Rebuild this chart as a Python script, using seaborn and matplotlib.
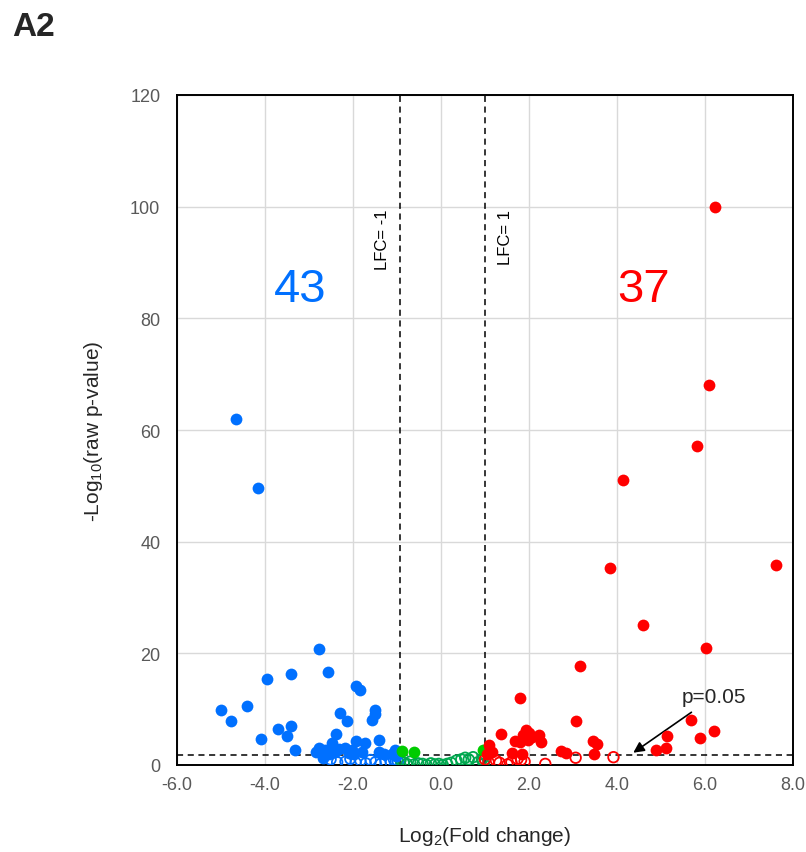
import numpy as np
import pandas as pd
import matplotlib
matplotlib.use("Agg")
import matplotlib.pyplot as plt
import seaborn as sns

# ---------------- data ----------------
blue_x = [-4.66, -4.15, -2.77, -3.95, -3.41, -2.56, -1.94, -1.83, -5.01, -4.77, -4.40,
          -3.70, -3.41, -3.49, -4.08, -3.32, -2.29, -2.14, -1.49, -1.49, -1.56, -2.38,
          -2.47, -1.94, -1.73, -1.42, -2.77, -2.63, -2.68, -2.32, -2.19, -2.02, -1.98,
          -1.42, -1.05, -1.03, -2.55, -2.40, -2.10, -1.80, -1.30, -2.85, -1.12]
blue_y = [61.9, 49.6, 20.8, 15.4, 16.3, 16.6, 14.1, 13.5, 9.8, 7.9, 10.6,
          6.4, 6.9, 5.2, 4.7, 2.6, 9.3, 7.9, 9.9, 9.2, 8.1, 5.5,
          3.9, 4.3, 3.9, 4.5, 3.0, 2.7, 1.3, 2.8, 3.1, 2.7, 1.9,
          2.3, 2.6, 1.6, 2.0, 2.3, 2.2, 2.4, 1.9, 2.4, 2.0]

red_x = [6.22, 6.08, 5.82, 4.14, 3.84, 7.62, 4.58, 6.02, 3.17, 1.80, 3.06, 5.69,
         6.20, 5.89, 5.14, 4.89, 5.11, 3.45, 3.55, 3.47, 2.73, 2.83, 1.36, 1.94,
         1.86, 1.69, 2.07, 2.23, 2.28, 1.80, 1.10, 1.62, 1.16, 1.84, 2.00, 1.98, 1.05]
red_y = [100.0, 68.0, 57.2, 51.0, 35.3, 35.9, 25.0, 20.9, 17.8, 12.0, 7.8, 8.0,
         6.1, 4.8, 5.2, 2.7, 3.0, 4.3, 3.7, 1.9, 2.5, 2.1, 5.6, 6.2,
         5.4, 4.3, 5.0, 5.4, 4.2, 4.2, 3.5, 2.2, 2.3, 1.9, 5.8, 4.5, 2.0]

green_x = [-0.88, -0.61, 0.95]
green_y = [2.5, 2.3, 2.6]

blue_open_x = [-2.51, -2.36, -2.17, -2.06, -1.94, -1.83, -1.71, -1.60, -1.49, -1.37,
               -1.26, -1.14, -1.07, -0.98]
blue_open_y = [1.0, 0.5, 0.6, 1.1, 0.4, 0.8, 0.3, 0.9, 0.5, 0.2, 0.7, 0.4, 1.0, 0.6]

green_open_x = [-0.92, -0.85, -0.78, -0.70, -0.61, -0.52, -0.42, -0.33, -0.23, -0.14,
                -0.05, 0.04, 0.14, 0.23, 0.35, 0.46, 0.55, 0.63, 0.73, 0.84, 0.93, 0.97]
green_open_y = [0.9, 0.4, 0.2, 0.6, 0.1, 0.3, 0.2, 0.0, 0.3, 0.1,
                0.2, 0.0, 0.2, 0.4, 0.8, 1.0, 1.3, 1.0, 1.4, 0.5, 1.0, 0.2]

red_open_x = [1.00, 1.08, 1.25, 1.33, 1.51, 1.60, 1.74, 1.82, 1.90, 2.37, 3.06, 3.92]
red_open_y = [1.0, 0.5, 0.8, 0.4, 0.1, 0.5, 1.1, 0.9, 0.6, 0.2, 1.3, 1.4]

lfc_lines = [-0.94, 1.0]
p_line = 1.85
count_down = "43"
count_up = "37"
x_ticks = [-6, -4, -2, 0, 2, 4, 6, 8]
y_ticks = [0, 20, 40, 60, 80, 100, 120]

# ---------------- style ----------------
sns.set_theme(style="white")
plt.rcParams["font.family"] = ["Liberation Sans", "DejaVu Sans"]
plt.rcParams["mathtext.fontset"] = "custom"
plt.rcParams["mathtext.rm"] = "Liberation Sans"
plt.rcParams["mathtext.default"] = "rm"

BLUE = "#0070FF"
RED = "#FF0000"
GREEN = "#00CC00"
GREEN_OPEN = "#00A84F"
TICK_C = "#595959"

fig = plt.figure(figsize=(8.06, 8.53), dpi=100)
ax = fig.add_axes([177 / 806, 1 - 766 / 853, (793 - 177) / 806, (766 - 96) / 853])

ax.set_xlim(-6, 8)
ax.set_ylim(0, 120)
ax.set_xticks(x_ticks)
ax.set_yticks(y_ticks)
ax.set_xticklabels([f"{v:.1f}" for v in x_ticks])
ax.set_yticklabels([str(v) for v in y_ticks])
ax.grid(True, color="#d9d9d9", linewidth=1.0, zorder=0)
ax.set_axisbelow(True)
for s in ax.spines.values():
    s.set_color("black")
    s.set_linewidth(1.4)
ax.tick_params(axis="both", direction="in", length=5, width=1.2, color="black",
               labelsize=13, labelcolor=TICK_C)
ax.tick_params(axis="x", pad=8)
ax.tick_params(axis="y", pad=12)

# dashed threshold lines
for v in lfc_lines:
    ax.axvline(v, color="black", linestyle=(0, (4, 3)), linewidth=1.1, zorder=1)
ax.axhline(p_line, color="black", linestyle=(0, (4, 3)), linewidth=1.1, zorder=1)

ms = 72
# open circles
for xs, ys, c in [(blue_open_x, blue_open_y, BLUE),
                  (green_open_x, green_open_y, GREEN_OPEN),
                  (red_open_x, red_open_y, RED)]:
    sns.scatterplot(x=xs, y=ys, ax=ax, marker="o", s=ms * 0.8, facecolor="none",
                    edgecolor=c, linewidth=1.3, zorder=3)

# filled circles
for xs, ys, c in [(blue_x, blue_y, BLUE), (green_x, green_y, GREEN), (red_x, red_y, RED)]:
    df = pd.DataFrame({"x": xs, "y": ys})
    sns.scatterplot(data=df, x="x", y="y", ax=ax, color=c, s=ms, linewidth=0, zorder=4)

ax.set_xlabel(r"Log$_2$(Fold change)", fontsize=15, color="#262626", labelpad=22)
ax.set_ylabel(r"-Log$_{10}$(raw p-value)", fontsize=15, color="#262626", labelpad=18)

# annotations
ax.text(-3.19, 85.3, count_down, color=BLUE, fontsize=34, ha="center", va="center")
ax.text(4.6, 85.3, count_up, color=RED, fontsize=34, ha="center", va="center")
ax.text(-1.32, 99.6, "LFC= -1", rotation=90, ha="center", va="top", fontsize=12, color="black")
ax.text(1.47, 99.6, "LFC= 1", rotation=90, ha="center", va="top", fontsize=12, color="black")
ax.annotate("p=0.05", xy=(4.37, 2.2), xytext=(5.48, 12.3), fontsize=15, color="#262626",
            ha="left", va="center",
            arrowprops=dict(arrowstyle="-|>", color="black", lw=1.2, mutation_scale=16,
                            shrinkA=4, shrinkB=0))

fig.text(12 / 806, 1 - 27 / 853, "A2", fontsize=24, fontweight="bold", ha="left", va="center")

fig.savefig("out.png", dpi=100)
